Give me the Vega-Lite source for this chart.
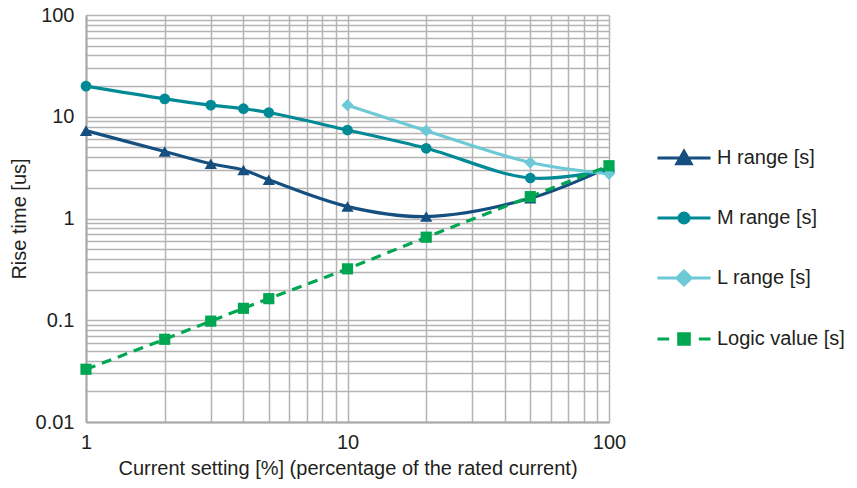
{
  "$schema": "https://vega.github.io/schema/vega-lite/v6.json",
  "width": 523,
  "height": 407,
  "autosize": {"type": "none"},
  "padding": {"left": 86, "top": 15, "right": 248, "bottom": 66},
  "background": "white",
  "config": {
    "font": "Liberation Sans",
    "view": {"stroke": null},
    "axis": {
      "grid": true,
      "gridColor": "#b4b4b4",
      "gridWidth": 1.5,
      "domainColor": "#a8a8a8",
      "domainWidth": 2,
      "ticks": false,
      "labelFontSize": 20,
      "labelColor": "#231f20",
      "labelFont": "Liberation Sans",
      "titleFont": "Liberation Sans",
      "titleFontSize": 20,
      "titleFontWeight": "normal",
      "titleColor": "#231f20",
      "labelOverlap": false,
      "labelFlush": false,
      "labelBound": false
    },
    "legend": {"labelFont": "Liberation Sans"}
  },
  "data": {
    "values": [
      {"x": 1, "y": 7.3, "series": "H range [s]"},
      {"x": 2, "y": 4.55, "series": "H range [s]"},
      {"x": 3, "y": 3.45, "series": "H range [s]"},
      {"x": 4, "y": 3.0, "series": "H range [s]"},
      {"x": 5, "y": 2.4, "series": "H range [s]"},
      {"x": 10, "y": 1.31, "series": "H range [s]"},
      {"x": 20, "y": 1.045, "series": "H range [s]"},
      {"x": 50, "y": 1.58, "series": "H range [s]"},
      {"x": 100, "y": 3.2, "series": "H range [s]"},
      {"x": 1, "y": 20.0, "series": "M range [s]"},
      {"x": 2, "y": 15.0, "series": "M range [s]"},
      {"x": 3, "y": 13.0, "series": "M range [s]"},
      {"x": 4, "y": 12.0, "series": "M range [s]"},
      {"x": 5, "y": 11.0, "series": "M range [s]"},
      {"x": 10, "y": 7.4, "series": "M range [s]"},
      {"x": 20, "y": 4.9, "series": "M range [s]"},
      {"x": 50, "y": 2.5, "series": "M range [s]"},
      {"x": 100, "y": 3.0, "series": "M range [s]"},
      {"x": 10, "y": 13.0, "series": "L range [s]"},
      {"x": 20, "y": 7.3, "series": "L range [s]"},
      {"x": 50, "y": 3.55, "series": "L range [s]"},
      {"x": 100, "y": 2.75, "series": "L range [s]"},
      {"x": 1, "y": 0.033, "series": "Logic value [s]"},
      {"x": 2, "y": 0.065, "series": "Logic value [s]"},
      {"x": 3, "y": 0.098, "series": "Logic value [s]"},
      {"x": 4, "y": 0.131, "series": "Logic value [s]"},
      {"x": 5, "y": 0.163, "series": "Logic value [s]"},
      {"x": 10, "y": 0.32, "series": "Logic value [s]"},
      {"x": 20, "y": 0.655, "series": "Logic value [s]"},
      {"x": 50, "y": 1.64, "series": "Logic value [s]"},
      {"x": 100, "y": 3.3, "series": "Logic value [s]"}
    ]
  },
  "encoding": {
    "x": {
      "field": "x",
      "type": "quantitative",
      "scale": {"type": "log", "domain": [1, 100], "nice": false},
      "axis": {
        "values": [1, 2, 3, 4, 5, 6, 7, 8, 9, 10, 20, 30, 40, 50, 60, 70, 80, 90, 100],
        "labelExpr": "(datum.value == 1 || datum.value == 10 || datum.value == 100) ? datum.label : ''",
        "labelPadding": 10,
        "title": "Current setting [%] (percentage of the rated current)",
        "titlePadding": 6
      }
    },
    "y": {
      "field": "y",
      "type": "quantitative",
      "scale": {"type": "log", "domain": [0.01, 100], "nice": false},
      "axis": {
        "values": [0.01, 0.02, 0.03, 0.04, 0.05, 0.06, 0.07, 0.08, 0.09, 0.1, 0.2, 0.3, 0.4, 0.5, 0.6, 0.7, 0.8, 0.9, 1, 2, 3, 4, 5, 6, 7, 8, 9, 10, 20, 30, 40, 50, 60, 70, 80, 90, 100],
        "labelExpr": "(datum.value == 0.01 || datum.value == 0.1 || datum.value == 1 || datum.value == 10 || datum.value == 100) ? datum.label : ''",
        "labelPadding": 12,
        "title": "Rise time [us]",
        "titlePadding": 6
      }
    },
    "color": {
      "field": "series",
      "type": "nominal",
      "scale": {
        "domain": ["H range [s]", "M range [s]", "L range [s]", "Logic value [s]"],
        "range": ["#154f7f", "#008a96", "#6dc9d5", "#00a651"]
      },
      "legend": {
        "orient": "none",
        "legendX": 570,
        "legendY": 115,
        "title": null,
        "symbolSize": 2809,
        "labelFontSize": 20,
        "labelColor": "#231f20",
        "labelOffset": 5,
        "rowPadding": 20,
        "encode": {
          "symbols": {
            "update": {
              "shape": {"signal": "datum.value == 'H range [s]' ? 'M-1,0H1M-0.27,0.22L0,-0.25L0.27,0.22Z' : datum.value == 'M range [s]' ? 'M-1,0H1M0.19,0A0.19,0.19 0 1,1 -0.19,0A0.19,0.19 0 1,1 0.19,0Z' : datum.value == 'L range [s]' ? 'M-1,0H1M0,-0.26L0.27,0L0,0.26L-0.27,0Z' : 'M-1,0H-0.56M0.56,0H1M-0.2,-0.2H0.2V0.2H-0.2Z'"},
              "fill": {"scale": "color", "field": "value"},
              "stroke": {"scale": "color", "field": "value"},
              "strokeWidth": {"value": 3},
              "strokeDash": {"value": []},
              "size": {"value": 2809},
              "opacity": {"value": 1}
            }
          }
        }
      }
    }
  },
  "layer": [
    {
      "transform": [{"filter": "datum.series != 'Logic value [s]'"}],
      "mark": {"type": "line", "interpolate": "catmull-rom", "strokeWidth": 3.2}
    },
    {
      "transform": [{"filter": "datum.series == 'Logic value [s]'"}],
      "mark": {"type": "line", "strokeWidth": 3.2, "strokeDash": [10, 7]}
    },
    {
      "transform": [{"filter": "datum.series == 'H range [s]'"}],
      "mark": {"type": "point", "filled": true, "opacity": 1, "size": 150, "shape": "triangle-up"}
    },
    {
      "transform": [{"filter": "datum.series == 'M range [s]'"}],
      "mark": {"type": "point", "filled": true, "opacity": 1, "size": 115, "shape": "circle"}
    },
    {
      "transform": [{"filter": "datum.series == 'L range [s]'"}],
      "mark": {"type": "point", "filled": true, "opacity": 1, "size": 150, "shape": "diamond"}
    },
    {
      "transform": [{"filter": "datum.series == 'Logic value [s]'"}],
      "mark": {"type": "point", "filled": true, "opacity": 1, "size": 125, "shape": "square"}
    }
  ]
}
